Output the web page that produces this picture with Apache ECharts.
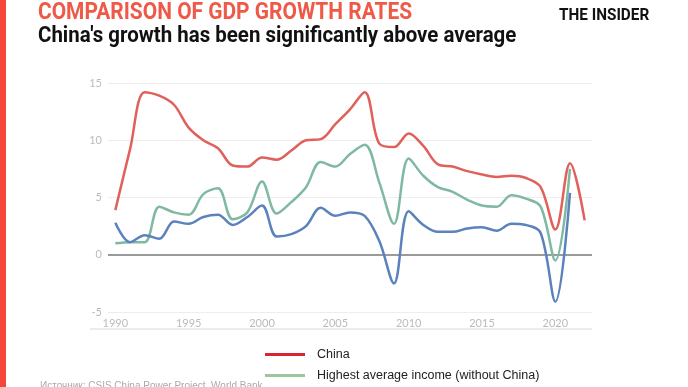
<!DOCTYPE html>
<html><head><meta charset="utf-8">
<script src="https://cdn.jsdelivr.net/npm/echarts@6/dist/echarts.min.js"></script>
<style>html,body{margin:0;padding:0;background:#fff}#c{width:688px;height:387px}</style>
</head><body><div id="c"></div>
<script>
const years = [];
for (let y = 1990; y <= 2022; y++) years.push(String(y));
const china = [3.9,9.2,14.2,13.9,13.1,11.1,10.0,9.3,7.8,7.7,8.5,8.3,9.1,10.0,10.1,11.4,12.7,14.2,9.7,9.4,10.6,9.5,7.9,7.7,7.3,7.0,6.8,6.9,6.7,5.9,2.2,8.0,3.0];
const highIncome = [1.0,1.1,1.1,4.2,3.7,3.5,5.3,5.8,3.1,3.7,6.4,3.6,4.6,5.9,8.1,7.7,8.8,9.6,6.3,2.7,8.4,6.9,5.9,5.5,4.8,4.3,4.2,5.2,4.9,4.2,-0.5,7.5,null];
const blueSeries = [2.8,1.1,1.7,1.4,2.9,2.7,3.3,3.5,2.6,3.3,4.3,1.6,1.8,2.5,4.1,3.4,3.7,3.4,1.2,-2.5,3.8,2.6,2.0,2.0,2.3,2.4,2.1,2.7,2.6,1.9,-4.1,5.4,null];
const yTicks = {min: -5, max: 15, step: 5};

const chart = echarts.init(document.getElementById('c'), null, {renderer: 'canvas'});
chart.setOption({
  animation: false,
  backgroundColor: '#fff',
  grid: {left: 108, right: 96, top: 83, bottom: 75},
  xAxis: {
    type: 'category', data: years, boundaryGap: true,
    axisLine: {show: false}, axisTick: {show: false},
    axisLabel: {interval: 4, color: '#bbb', fontSize: 11, fontFamily: 'Lato', margin: 6},
    splitLine: {show: false}
  },
  yAxis: {
    type: 'value', min: yTicks.min, max: yTicks.max, interval: yTicks.step,
    axisLine: {show: false}, axisTick: {show: false},
    axisLabel: {color: '#bbb', fontSize: 11, fontFamily: 'Lato', margin: 6},
    splitLine: {lineStyle: {color: '#eeeeee', width: 1}}
  },
  legend: {
    orient: 'vertical', left: 265, top: 347, itemGap: 6, padding: 0, height: 40,
    itemWidth: 40, itemHeight: 3, icon: 'rect',
    textStyle: {color: '#222', fontSize: 12.5, fontFamily: 'Liberation Sans', padding: [0,0,0,7], lineHeight: 15},
    data: [
      {name: 'China', itemStyle: {color: '#d8252f'}},
      {name: 'Highest average income (without China)', itemStyle: {color: '#9cc79a'}}
    ]
  },
  series: [
    {name: 'China', type: 'line', data: china, smooth: 0.35, symbol: 'none',
     lineStyle: {color: '#e0605c', width: 2.5}, itemStyle: {color: '#e0605c'}, z: 4},
    {name: 'Highest average income (without China)', type: 'line', data: highIncome, smooth: 0.35, symbol: 'none',
     lineStyle: {color: '#7fb9a2', width: 2.5}, itemStyle: {color: '#7fb9a2'}, z: 3},
    {name: 'Other', type: 'line', data: blueSeries, smooth: 0.35, symbol: 'none',
     lineStyle: {color: '#5b82bd', width: 2.5}, itemStyle: {color: '#5b82bd'}, z: 3,
     markLine: {silent: true, symbol: 'none', label: {show: false},
       lineStyle: {color: '#9a9a9a', width: 2, type: 'solid'}, data: [{yAxis: 0}], z: 1}}
  ],
  graphic: [
    {type: 'rect', left: 0, top: 0, shape: {width: 6, height: 387}, style: {fill: '#f4473a'}},
    {type: 'line', shape: {x1: 90, y1: 329, x2: 592, y2: 329}, style: {stroke: '#e6e6e6', lineWidth: 1.5}},
    {type: 'text', x: 38, y: 2, scaleX: 0.91, style: {text: 'COMPARISON OF GDP GROWTH RATES', fill: '#ef5a48',
      font: 'bold 23px Roboto'}},
    {type: 'text', x: 38, y: 25, scaleX: 0.93, style: {text: "China's growth has been significantly above average", fill: '#111',
      font: 'bold 22px Roboto'}},
    {type: 'text', x: 559, y: 7, scaleX: 0.9, style: {text: 'THE INSIDER', fill: '#111',
      font: 'bold 17px Roboto'}},
    {type: 'text', x: 40, y: 381, style: {text: 'Источник: CSIS China Power Project, World Bank', fill: '#aaa',
      font: '10px Liberation Sans'}}
  ]
});
</script></body></html>
